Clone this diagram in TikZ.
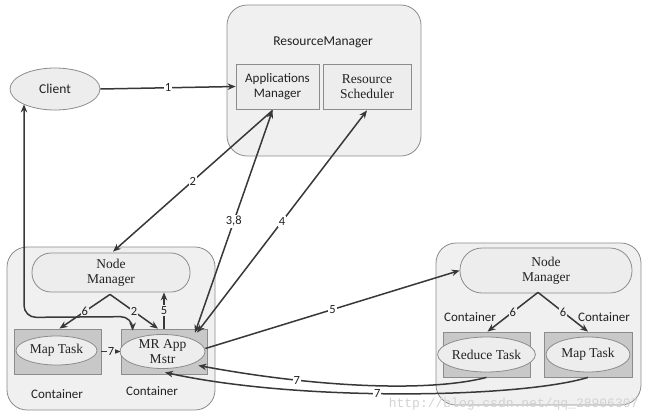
\documentclass[tikz,border=0pt]{standalone}
\usepackage{fontspec}
\setmainfont{Liberation Serif}
\newfontfamily\calfont{Carlito}
\newfontfamily\wmfont{Liberation Mono}
\usetikzlibrary{arrows.meta,shapes.geometric,calc}
\definecolor{outerfill}{HTML}{F0F0F0}
\definecolor{outerdraw}{HTML}{8C8C8C}
\definecolor{innerfill}{HTML}{EDEDED}
\definecolor{cfill}{HTML}{C8C8C8}
\definecolor{ln}{HTML}{383838}
\definecolor{txt}{HTML}{222222}
\begin{document}
\begin{tikzpicture}[x=1pt,y=-1pt,
  outerbox/.style={draw=outerdraw, fill=outerfill, rounded corners=20pt, line width=0.8pt},
  innerbox/.style={draw=outerdraw, fill=innerfill, line width=0.8pt, align=center, inner sep=0pt, text=txt},
  cbox/.style={draw=outerdraw, fill=cfill, line width=0.8pt},
  ell/.style={ellipse, draw=outerdraw, fill=innerfill, line width=0.8pt, inner sep=0pt, align=center, text=txt,
    font=\fontsize{13.5}{15}\selectfont},
  nmbox/.style={draw=outerdraw, fill=innerfill, line width=0.8pt, align=center, inner sep=0pt, text=txt,
    font=\fontsize{13.5}{15}\selectfont},
  sanstext/.style={font=\calfont\fontsize{13}{15}\selectfont, text=txt, align=center},
  conn/.style={draw=ln, line width=1.5pt, -{Stealth[length=8pt,width=6.5pt]}},
  biconn/.style={draw=ln, line width=1.5pt, {Stealth[length=8pt,width=6.5pt]}-{Stealth[length=8pt,width=6.5pt]}},
  lab/.style={fill=white, inner sep=1pt, font=\calfont\fontsize{12.5}{14}\selectfont, text=txt},
  glab/.style={lab, fill=outerfill}
]
\useasboundingbox (0,0) rectangle (650,416);
\fill[white] (0,0) rectangle (650,416);

% Resource Manager
\node[outerbox, minimum width=194pt, minimum height=151pt] (rm) at (324,80.5) {};
\node[sanstext, font=\calfont\fontsize{13.5}{15}\selectfont] (rmlabel) at (323,42) {ResourceManager};
\node[innerbox, minimum width=83pt, minimum height=45pt, font=\calfont\fontsize{13}{15}\selectfont] (am) at (277.5,86.5) {Applications\\Manager};
\node[innerbox, minimum width=88pt, minimum height=45pt, font=\fontsize{13.5}{15}\selectfont] (rs) at (367,86.5) {Resource\\Scheduler};

% Client
\node[ellipse, draw=outerdraw, fill=innerfill, line width=0.8pt, minimum width=90pt, minimum height=42pt, inner sep=0pt, sanstext, font=\calfont\fontsize{13.5}{15}\selectfont] (client) at (55,89) {Client};

% Left container
\node[outerbox, minimum width=208pt, minimum height=163pt] (lc) at (111,328.5) {};
\node[nmbox, minimum width=158pt, minimum height=39pt, rounded corners=19pt] (lnm) at (111,272.5) {Node\\Manager};
\node[cbox, minimum width=87pt, minimum height=45pt] (mtbox) at (57.5,351.5) {};
\node[ell, minimum width=81pt, minimum height=29pt] (mt) at (56.5,350.5) {Map Task};
\node[cbox, minimum width=86pt, minimum height=45pt] (mrbox) at (164,351.5) {};
\node[ell, minimum width=85pt, minimum height=33pt] (mr) at (162.5,351.5) {MR App\\Mstr};
\node[sanstext] (cl1) at (57,394) {Container};
\node[sanstext] (cl2) at (152,391) {Container};

% Right container
\node[outerbox, minimum width=205pt, minimum height=162pt] (rc) at (538.5,324) {};
\node[nmbox, minimum width=172pt, minimum height=45pt, rounded corners=22pt] (rnm) at (546,270.5) {Node\\Manager};
\node[cbox, minimum width=87pt, minimum height=45pt] (rdbox) at (486.5,354.5) {};
\node[ell, minimum width=83pt, minimum height=35pt] (rd) at (486.5,354.5) {Reduce Task};
\node[cbox, minimum width=88pt, minimum height=45pt] (rmtbox) at (588,354.5) {};
\node[ell, minimum width=84pt, minimum height=35pt] (rmt) at (588,354.5) {Map Task};
\node[sanstext] (cl3) at (470,317) {Container};
\node[sanstext] (cl4) at (604,317) {Container};

% Watermark
\node[font=\wmfont\fontsize{13}{15}\selectfont, text=gray!35, anchor=east] (wm) at (642,404) {http://blog.csdn.net/qq\_28906307};

% Connectors
\draw[conn] (client.east) -- node[lab]{1} (am.west);
\draw[conn] ($(am.south)+(-5,1)$) -- node[lab, pos=0.5]{2} ($(lnm.north)+(2,-1)$);
\draw[biconn] ($(mrbox.north)+(31,4)$) -- node[lab, pos=0.5]{3,8} ($(am.south)+(-5,1)$);
\draw[biconn] ($(mrbox.north)+(33,4)$) -- node[lab, pos=0.5]{4} ($(rs.south)+(0,1)$);
\draw[conn] ($(mr.east)+(0,-3)$) -- node[lab, pos=0.5]{5} (rnm.west);
\draw[conn] (mrbox.north) -- node[glab]{5} (mrbox.north |- lnm.south);
\draw[conn] ($(lnm.south)+(-1,2)$) -- node[glab]{6} ($(mtbox.north)+(2,0)$);
\draw[conn] ($(lnm.south)+(-1,2)$) -- node[glab]{2} ($(mrbox.north)+(-6,0)$);
\draw[conn] (mtbox.east) -- node[glab]{7} (mrbox.west);
\draw[biconn, rounded corners=12pt] ($(client.south)+(-31,-6)$) -- ($(client.south)+(-31,207)$) -- ($(mrbox.north west)+(12,-12)$) -- ($(mrbox.north west)+(12,2)$);
\draw[conn] ($(rnm.south)+(-8,-1)$) -- node[glab]{6} ($(rdbox.north)+(1,0)$);
\draw[conn] ($(rnm.south)+(-8,-1)$) -- node[glab]{6} (rmtbox.north);
\draw[conn] (rdbox.south) .. controls (430,392) and (320,388) .. node[lab, pos=0.72]{7} ($(mrbox.east)+(-9,14)$);
\draw[conn] (rmtbox.south) .. controls (520,398) and (300,402) .. node[lab, pos=0.55]{7} ($(mrbox.south)+(1,-2)$);
\end{tikzpicture}
\end{document}
